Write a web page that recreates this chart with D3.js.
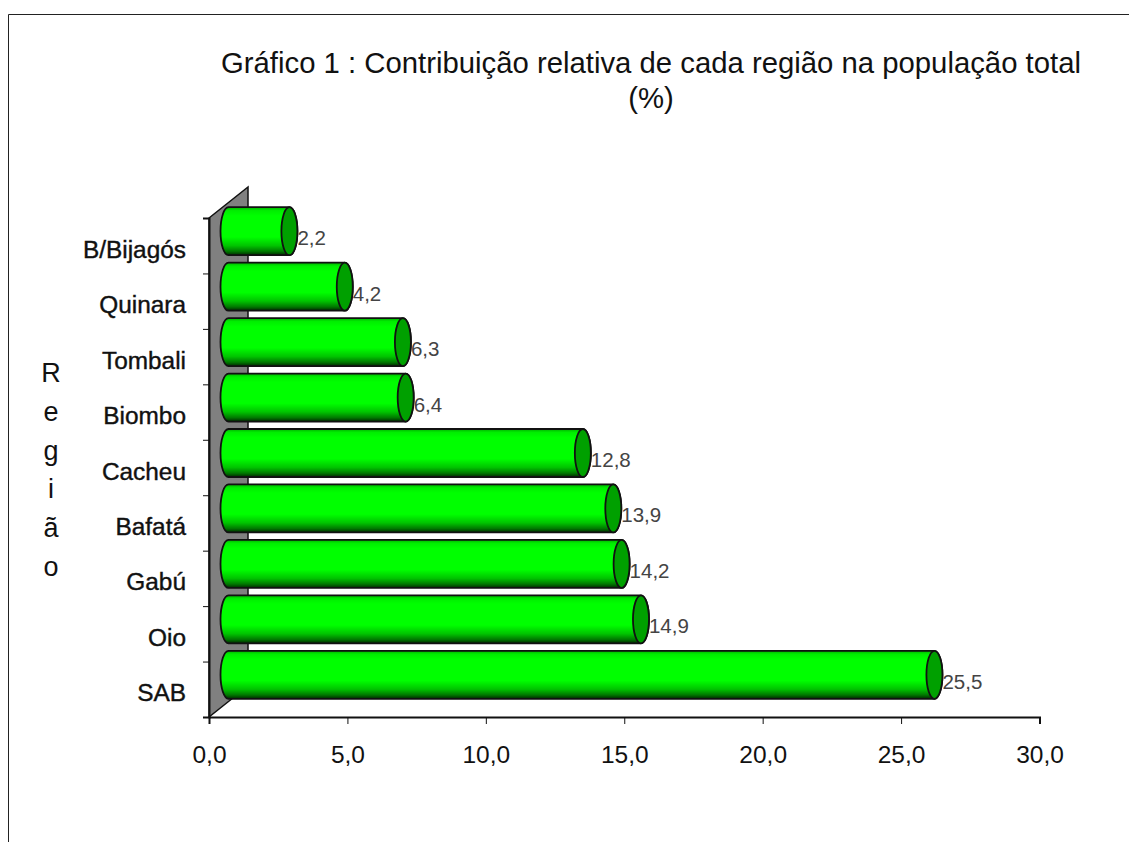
<!DOCTYPE html>
<html>
<head>
<meta charset="utf-8">
<script src="https://cdn.jsdelivr.net/npm/d3@7"></script>
<style>
  html, body { margin: 0; padding: 0; background: #fff; overflow: hidden; }
  svg { display: block; font-family: "Liberation Sans", Arial, sans-serif; }
</style>
</head>
<body>
<svg id="chart" width="1129" height="842"></svg>
<script>
const regions = ["B/Bijagós", "Quinara", "Tombali", "Biombo", "Cacheu", "Bafatá", "Gabú", "Oio", "SAB"];
const shares = [2.2, 4.2, 6.3, 6.4, 12.8, 13.9, 14.2, 14.9, 25.5];
const valueLabels = ["2,2", "4,2", "6,3", "6,4", "12,8", "13,9", "14,2", "14,9", "25,5"];
const xTicks = [0, 5, 10, 15, 20, 25, 30];
const titleLines = ["Gráfico 1 : Contribuição relativa de cada região na população total", "(%)"];
const yTitle = ["R", "e", "g", "i", "ã", "o"];

const svg = d3.select("#chart");

// plot box and 3d depth
const plotLeft = 209, plotRight = 1039.5, plotTop = 218, plotBottom = 717;
const depthX = 39, depthY = 31;

const x = d3.scaleLinear().domain([0, 30]).range([plotLeft, plotRight]);
const y = d3.scaleBand().domain(regions).range([plotTop, plotBottom]).paddingInner(0).paddingOuter(0);
const yEdges = d3.scaleLinear().domain([0, regions.length]).range([plotTop, plotBottom]);

// gradient of the cylinders
const grad = svg.append("defs").append("linearGradient")
    .attr("id", "cyl").attr("x1", 0).attr("y1", 0).attr("x2", 0).attr("y2", 1);
[[0, "#00b000"], [0.07, "#00ee00"], [0.18, "#00ff00"], [0.62, "#00ff00"], [0.8, "#00c400"], [0.92, "#007800"], [1, "#002800"]]
    .forEach(s => grad.append("stop").attr("offset", s[0]).attr("stop-color", s[1]));

// outer border
svg.append("path").attr("d", "M8.5,842V14.5H1129").attr("fill", "none").attr("stroke", "#222").attr("stroke-width", 1);

// title
svg.append("g").selectAll("text").data(titleLines).join("text")
    .attr("x", 651).attr("y", (d, i) => 73 + i * 35)
    .attr("text-anchor", "middle").attr("font-size", 29.3).attr("fill", "#111")
    .text(d => d);

// back wall
svg.append("path")
    .attr("d", `M${plotLeft},${plotTop}L${plotLeft + depthX},${plotTop - depthY}V${plotBottom - depthY}L${plotLeft},${plotBottom}Z`)
    .attr("fill", "#808080").attr("stroke", "#111").attr("stroke-width", 1.5);

// axes
const xAxis = svg.append("g").attr("transform", `translate(0,${plotBottom})`)
    .call(d3.axisBottom(x).tickValues(xTicks).tickSize(7).tickPadding(22).tickFormat(d => d3.format(".1f")(d).replace(".", ",")));
xAxis.selectAll("text").attr("font-size", 24.5).attr("font-family", "Liberation Sans").attr("fill", "#111");
xAxis.selectAll("path,line").attr("stroke", "#111");
xAxis.select(".domain").attr("stroke-width", 2);

const yAxis = svg.append("g").attr("transform", `translate(${plotLeft},0)`)
    .call(d3.axisLeft(yEdges).ticks(regions.length).tickSize(6).tickFormat(""));
yAxis.selectAll("path,line").attr("stroke", "#111");
yAxis.select(".domain").attr("stroke-width", 2);

// category labels
svg.append("g").selectAll("text").data(regions).join("text")
    .attr("x", 186).attr("y", d => y(d) + y.bandwidth() / 2 + 12)
    .attr("text-anchor", "end").attr("font-size", 24.4).attr("fill", "#111").attr("stroke", "#111").attr("stroke-width", 0.4)
    .text(d => d);

// y title, one letter per row
svg.append("g").selectAll("text").data(yTitle).join("text")
    .attr("x", 51).attr("y", (d, i) => 382 + i * 38.8)
    .attr("text-anchor", "middle").attr("font-size", 27).attr("fill", "#111")
    .text(d => d);

// cylinders
const rx = 8, capH = 48, shiftX = 19.5, shiftY = 14.5;
const bars = svg.append("g").selectAll("g").data(regions).join("g")
    .attr("transform", d => `translate(0,${y(d) + y.bandwidth() / 2 - shiftY})`);

bars.append("path")
    .attr("d", (d, i) => {
        const x0 = x(0) + shiftX - 8, x1 = x(shares[i]) + shiftX, h = capH / 2;
        return `M${x0 + rx},${-h}H${x1}A${rx},${h} 0 0 1 ${x1},${h}H${x0 + rx}A${rx},${h} 0 0 1 ${x0 + rx},${-h}Z`;
    })
    .attr("fill", "url(#cyl)").attr("stroke", "#111").attr("stroke-width", 1.8);

bars.append("ellipse")
    .attr("cx", (d, i) => x(shares[i]) + shiftX)
    .attr("cy", 0).attr("rx", rx).attr("ry", capH / 2)
    .attr("fill", "#00a000").attr("stroke", "#111").attr("stroke-width", 1.8);

bars.append("text")
    .attr("x", (d, i) => x(shares[i]) + shiftX + rx)
    .attr("y", 14)
    .attr("font-size", 20.5).attr("fill", "#444")
    .text((d, i) => valueLabels[i]);
</script>
</body>
</html>
